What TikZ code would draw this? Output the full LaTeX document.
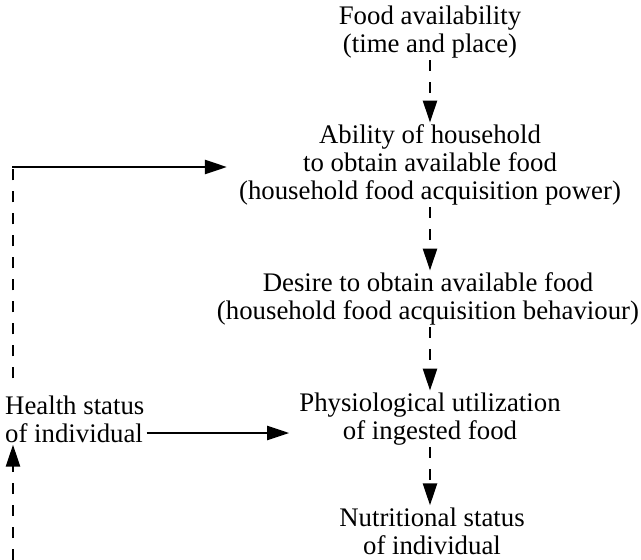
\documentclass[tikz,border=0pt]{standalone}
\usepackage{fontspec}
\setmainfont{Liberation Serif}
\usetikzlibrary{arrows.meta}
\begin{document}
\begin{tikzpicture}[x=1pt,y=-1pt,
  txt/.style={align=center,inner sep=2pt,font=\fontsize{26.8}{28}\selectfont},
  arr/.style={line width=2.2pt,-{Triangle[length=22pt,width=14pt]}},
  dsh/.style={line width=2.6pt,dash pattern=on 11pt off 11pt}]
\useasboundingbox (0,0) rectangle (641,560);
\node[txt] (food) at (430,32) {Food availability\\(time and place)};
\node[txt] (ability) at (430,165) {Ability of household\\to obtain available food\\(household food acquisition power)};
\node[txt] (desire) at (428,299) {Desire to obtain available food\\(household food acquisition behaviour)};
\node[txt] (physio) at (430,419) {Physiological utilization\\of ingested food};
\node[txt,align=left,anchor=west] (health) at (3,419) {Health status\\of individual};
\node[txt] (nutri) at (432,531) {Nutritional status\\of individual};
\coordinate (corner) at (13,167);
\coordinate (bot) at (13,560);
\draw[arr,dsh] (food.south) -- (food.south |- ability.north);
\draw[arr,dsh] (ability.south) -- (ability.south |- desire.north);
\draw[arr,dsh] (desire.south -| physio.north) -- (physio.north);
\draw[arr,dsh] (physio.south) -- (physio.south |- nutri.north);
\draw[dsh,line cap=butt] (corner |- health.north) ++(0,-15) -- ([yshift=-1pt]corner);
\draw[line width=2.2pt] ([yshift=-1pt]corner) -- ([yshift=0pt]corner);
\draw[arr,line cap=rect] (corner) -- ([xshift=-10pt]ability.west |- corner);
\draw[arr] ([yshift=-14pt]health.east) -- ([yshift=-14pt,xshift=-8pt]physio.west);
\draw[arr,dsh] (bot) -- (bot |- health.south);
\end{tikzpicture}
\end{document}
